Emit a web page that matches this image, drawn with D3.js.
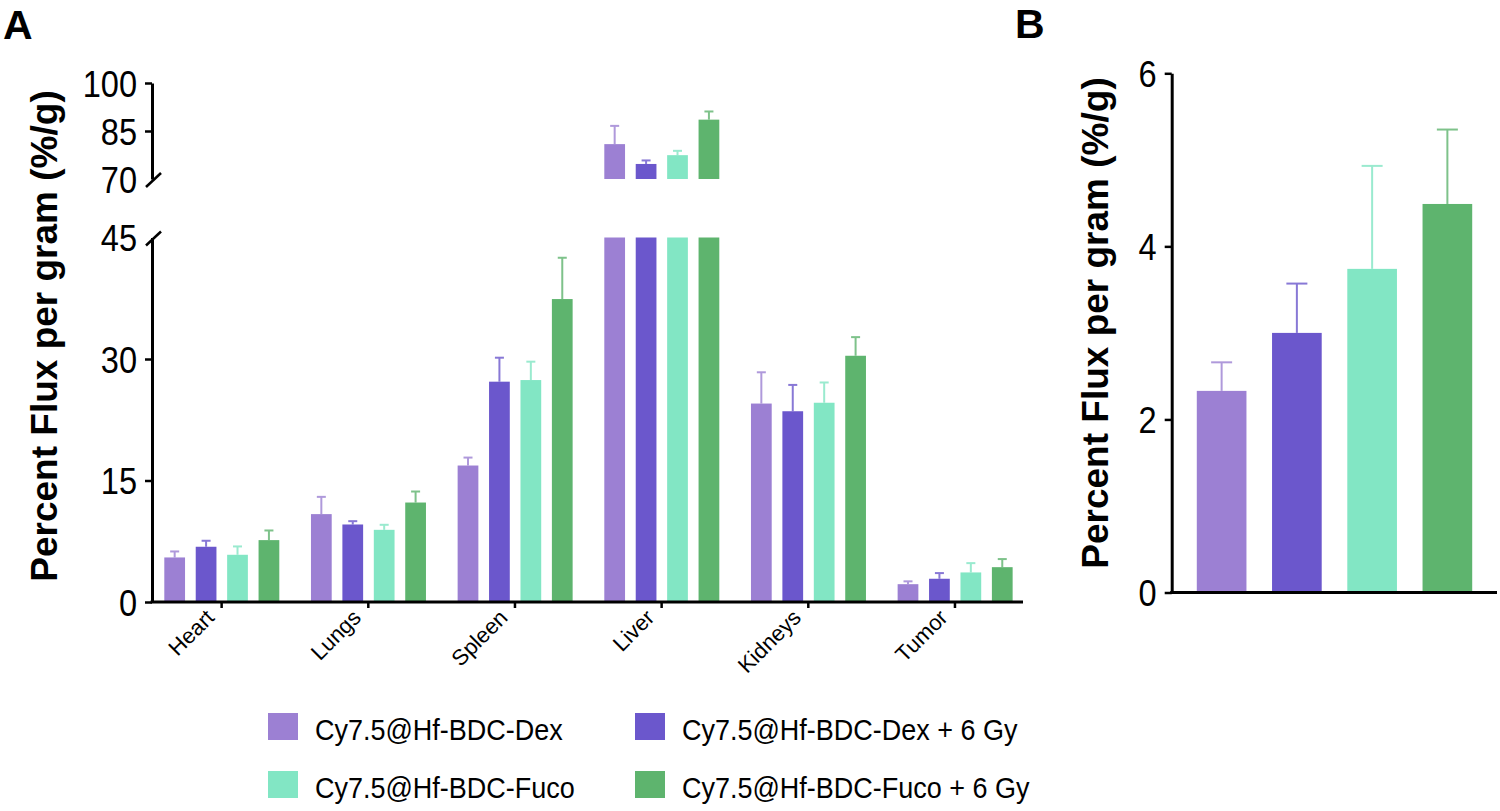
<!DOCTYPE html>
<html>
<head>
<meta charset="utf-8">
<script src="https://cdn.jsdelivr.net/npm/d3@7"></script>
<style>
  html, body { margin: 0; padding: 0; background: #fff; }
  svg { display: block; }
  text { font-family: "Liberation Sans", Arial, Helvetica, sans-serif; fill: #000; }
</style>
</head>
<body>
<svg id="chart" width="1500" height="811"></svg>
<script>
// ---------------- DATA ----------------
const organs = ["Heart", "Lungs", "Spleen", "Liver", "Kidneys", "Tumor"];
const groups = ["Cy7.5@Hf-BDC-Dex", "Cy7.5@Hf-BDC-Dex + 6 Gy", "Cy7.5@Hf-BDC-Fuco", "Cy7.5@Hf-BDC-Fuco + 6 Gy"];
const colors = ["#9c80d3", "#6b57cc", "#82e6c4", "#5eb46e"];

// Panel A: mean and error (SD) per organ, for each group
const dexMean   = [5.5, 10.85, 16.85, 80.9, 24.5, 2.2];
const dexErr    = [0.74, 2.13, 0.98, 5.7, 3.86, 0.35];
const dex6Mean  = [6.82, 9.57, 27.2, 74.7, 23.55, 2.87];
const dex6Err   = [0.74, 0.41, 2.96, 1.1, 3.25, 0.7];
const fucoMean  = [5.83, 8.91, 27.4, 77.45, 24.6, 3.65];
const fucoErr   = [1.03, 0.62, 2.27, 1.35, 2.5, 1.15];
const fuco6Mean = [7.64, 12.28, 37.4, 88.55, 30.4, 4.3];
const fuco6Err  = [1.19, 1.36, 5.1, 2.55, 2.3, 1.0];

// Panel B: tumor, per group
const tumorMean = [2.33, 3.0, 3.74, 4.49];
const tumorErr  = [0.33, 0.57, 1.19, 0.86];

// Tick labels
const lowTicks  = [0, 15, 30, 45];
const highTicks = [70, 85, 100];
const bTicks    = [0, 2, 4, 6];

const yTitle = "Percent Flux per gram (%/g)";

// ---------------- BUILD ----------------
const meansA = [dexMean, dex6Mean, fucoMean, fuco6Mean];
const errsA  = [dexErr, dex6Err, fucoErr, fuco6Err];
const rowsA = [];
organs.forEach((o, i) => groups.forEach((g, j) => {
  rowsA.push({organ: o, group: g, gi: j, mean: meansA[j][i], err: errsA[j][i]});
}));
const rowsB = groups.map((g, j) => ({group: g, gi: j, mean: tumorMean[j], err: tumorErr[j]}));

const svg = d3.select("#chart");
const AXIS_W = 3;
const SX = 0.88; // horizontal condensing of text, as in the reference

function styleYTicks(ax) {
  ax.select(".domain").attr("stroke-width", AXIS_W);
  ax.selectAll(".tick line").attr("stroke-width", 2.5);
  ax.selectAll(".tick text")
    .style("font-size", "37px")
    .attr("dy", "0.36em")
    .attr("x", -15 / SX)
    .attr("transform", `scale(${SX},1)`);
}

// ---------- Panel A ----------
const xA = d3.scaleBand().domain(organs).range([148.3, 1028.3]);
const xInner = d3.scaleBand().domain(groups).range([16, 131]).paddingInner(0.34).paddingOuter(0);
const yLow = d3.scaleLinear().domain([0, 45]).range([602, 237.5]);
const yHigh = d3.scaleLinear().domain([70, 100]).range([179, 83]);
const AX = 152;

const gA = svg.append("g");

gA.selectAll("rect.low").data(rowsA).join("rect")
  .attr("class", "low")
  .attr("x", d => xA(d.organ) + xInner(d.group))
  .attr("width", xInner.bandwidth())
  .attr("y", d => yLow(Math.min(d.mean, 45)))
  .attr("height", d => yLow(0) - yLow(Math.min(d.mean, 45)))
  .attr("fill", d => colors[d.gi]);

const broken = rowsA.filter(d => d.mean > 70);
gA.selectAll("rect.high").data(broken).join("rect")
  .attr("class", "high")
  .attr("x", d => xA(d.organ) + xInner(d.group))
  .attr("width", xInner.bandwidth())
  .attr("y", d => yHigh(d.mean))
  .attr("height", d => yHigh(70) - yHigh(d.mean))
  .attr("fill", d => colors[d.gi]);

function yPanelA(v) { return v > 45 ? yHigh(v) : yLow(v); }
const capA = 4.5;
const ebA = gA.selectAll("g.eb").data(rowsA).join("g").attr("class", "eb")
  .attr("stroke", d => colors[d.gi]).attr("stroke-width", 2).attr("opacity", 0.8);
ebA.append("line")
  .attr("x1", d => xA(d.organ) + xInner(d.group) + xInner.bandwidth() / 2)
  .attr("x2", d => xA(d.organ) + xInner(d.group) + xInner.bandwidth() / 2)
  .attr("y1", d => yPanelA(d.mean))
  .attr("y2", d => yPanelA(d.mean + d.err));
ebA.append("line")
  .attr("x1", d => xA(d.organ) + xInner(d.group) + xInner.bandwidth() / 2 - capA)
  .attr("x2", d => xA(d.organ) + xInner(d.group) + xInner.bandwidth() / 2 + capA)
  .attr("y1", d => yPanelA(d.mean + d.err))
  .attr("y2", d => yPanelA(d.mean + d.err));

const axLow = gA.append("g").attr("transform", `translate(${AX},0)`)
  .call(d3.axisLeft(yLow).tickValues(lowTicks).tickSize(7).tickSizeOuter(0));
const axHigh = gA.append("g").attr("transform", `translate(${AX},0)`)
  .call(d3.axisLeft(yHigh).tickValues(highTicks).tickSize(7).tickSizeOuter(0));
styleYTicks(axLow);
styleYTicks(axHigh);
axLow.selectAll(".tick").filter(d => d === 45).select("line").remove();
axHigh.selectAll(".tick").filter(d => d === 70).select("line").remove();
gA.append("line").attr("x1", AX - 6).attr("y1", yHigh(70) + 8).attr("x2", AX + 9).attr("y2", yHigh(70) - 6)
  .attr("stroke", "#000").attr("stroke-width", 2.5);
gA.append("line").attr("x1", AX - 6).attr("y1", yLow(45) + 8).attr("x2", AX + 9).attr("y2", yLow(45) - 6)
  .attr("stroke", "#000").attr("stroke-width", 2.5);

const axX = gA.append("g").attr("transform", `translate(0,${yLow(0)})`)
  .call(d3.axisBottom(xA).tickSize(6).tickSizeOuter(0));
axX.select(".domain").attr("d", `M${AX - 1.5},0H1023`).attr("stroke-width", AXIS_W);
axX.selectAll(".tick line").attr("stroke-width", 2.5);
axX.selectAll(".tick text")
  .style("font-size", "22px")
  .attr("text-anchor", "end")
  .attr("dy", 0).attr("y", 0)
  .attr("transform", "translate(-6,17) rotate(-45)");

gA.append("text").attr("transform", "translate(57,336) rotate(-90)")
  .attr("text-anchor", "middle").style("font-size", "37px").style("font-weight", "bold").text(yTitle);
svg.append("text").attr("x", 3).attr("y", 39).style("font-size", "41px").style("font-weight", "bold").text("A");

// ---------- Panel B ----------
const BX = 1171.7;
const xB = d3.scaleBand().domain(groups).range([1184, 1485]).paddingInner(0.34).paddingOuter(0.17);
const yB = d3.scaleLinear().domain([0, 6]).range([592.5, 73.3]);
const gB = svg.append("g");

gB.selectAll("rect").data(rowsB).join("rect")
  .attr("x", d => xB(d.group)).attr("width", xB.bandwidth())
  .attr("y", d => yB(d.mean)).attr("height", d => yB(0) - yB(d.mean))
  .attr("fill", d => colors[d.gi]);

const capB = 10.5;
const ebB = gB.selectAll("g.eb").data(rowsB).join("g").attr("class", "eb")
  .attr("stroke", d => colors[d.gi]).attr("stroke-width", 2).attr("opacity", 0.8);
ebB.append("line")
  .attr("x1", d => xB(d.group) + xB.bandwidth() / 2).attr("x2", d => xB(d.group) + xB.bandwidth() / 2)
  .attr("y1", d => yB(d.mean)).attr("y2", d => yB(d.mean + d.err));
ebB.append("line")
  .attr("x1", d => xB(d.group) + xB.bandwidth() / 2 - capB).attr("x2", d => xB(d.group) + xB.bandwidth() / 2 + capB)
  .attr("y1", d => yB(d.mean + d.err)).attr("y2", d => yB(d.mean + d.err));

const axB = gB.append("g").attr("transform", `translate(${BX},0)`)
  .call(d3.axisLeft(yB).tickValues(bTicks).tickFormat(d3.format("d")).tickSize(7).tickSizeOuter(0));
styleYTicks(axB);

gB.append("line").attr("x1", BX - 1.5).attr("x2", 1497).attr("y1", yB(0)).attr("y2", yB(0))
  .attr("stroke", "#000").attr("stroke-width", AXIS_W);

gB.append("text").attr("transform", "translate(1108,323) rotate(-90)")
  .attr("text-anchor", "middle").style("font-size", "37px").style("font-weight", "bold").text(yTitle);
svg.append("text").attr("x", 1015).attr("y", 38).style("font-size", "41px").style("font-weight", "bold").text("B");

// ---------- Legend ----------
const legX = [268, 635];
const legY = [713, 771];
const leg = svg.append("g").selectAll("g").data(groups).join("g")
  .attr("transform", (d, i) => `translate(${legX[i % 2]},${legY[Math.floor(i / 2)]})`);
leg.append("rect").attr("width", 30).attr("height", 27).attr("fill", (d, i) => colors[i]);
leg.append("text").attr("x", 47 / 0.9).attr("y", 27).attr("transform", "scale(0.9,1)")
  .style("font-size", "30px").text(d => d);
</script>
</body>
</html>
